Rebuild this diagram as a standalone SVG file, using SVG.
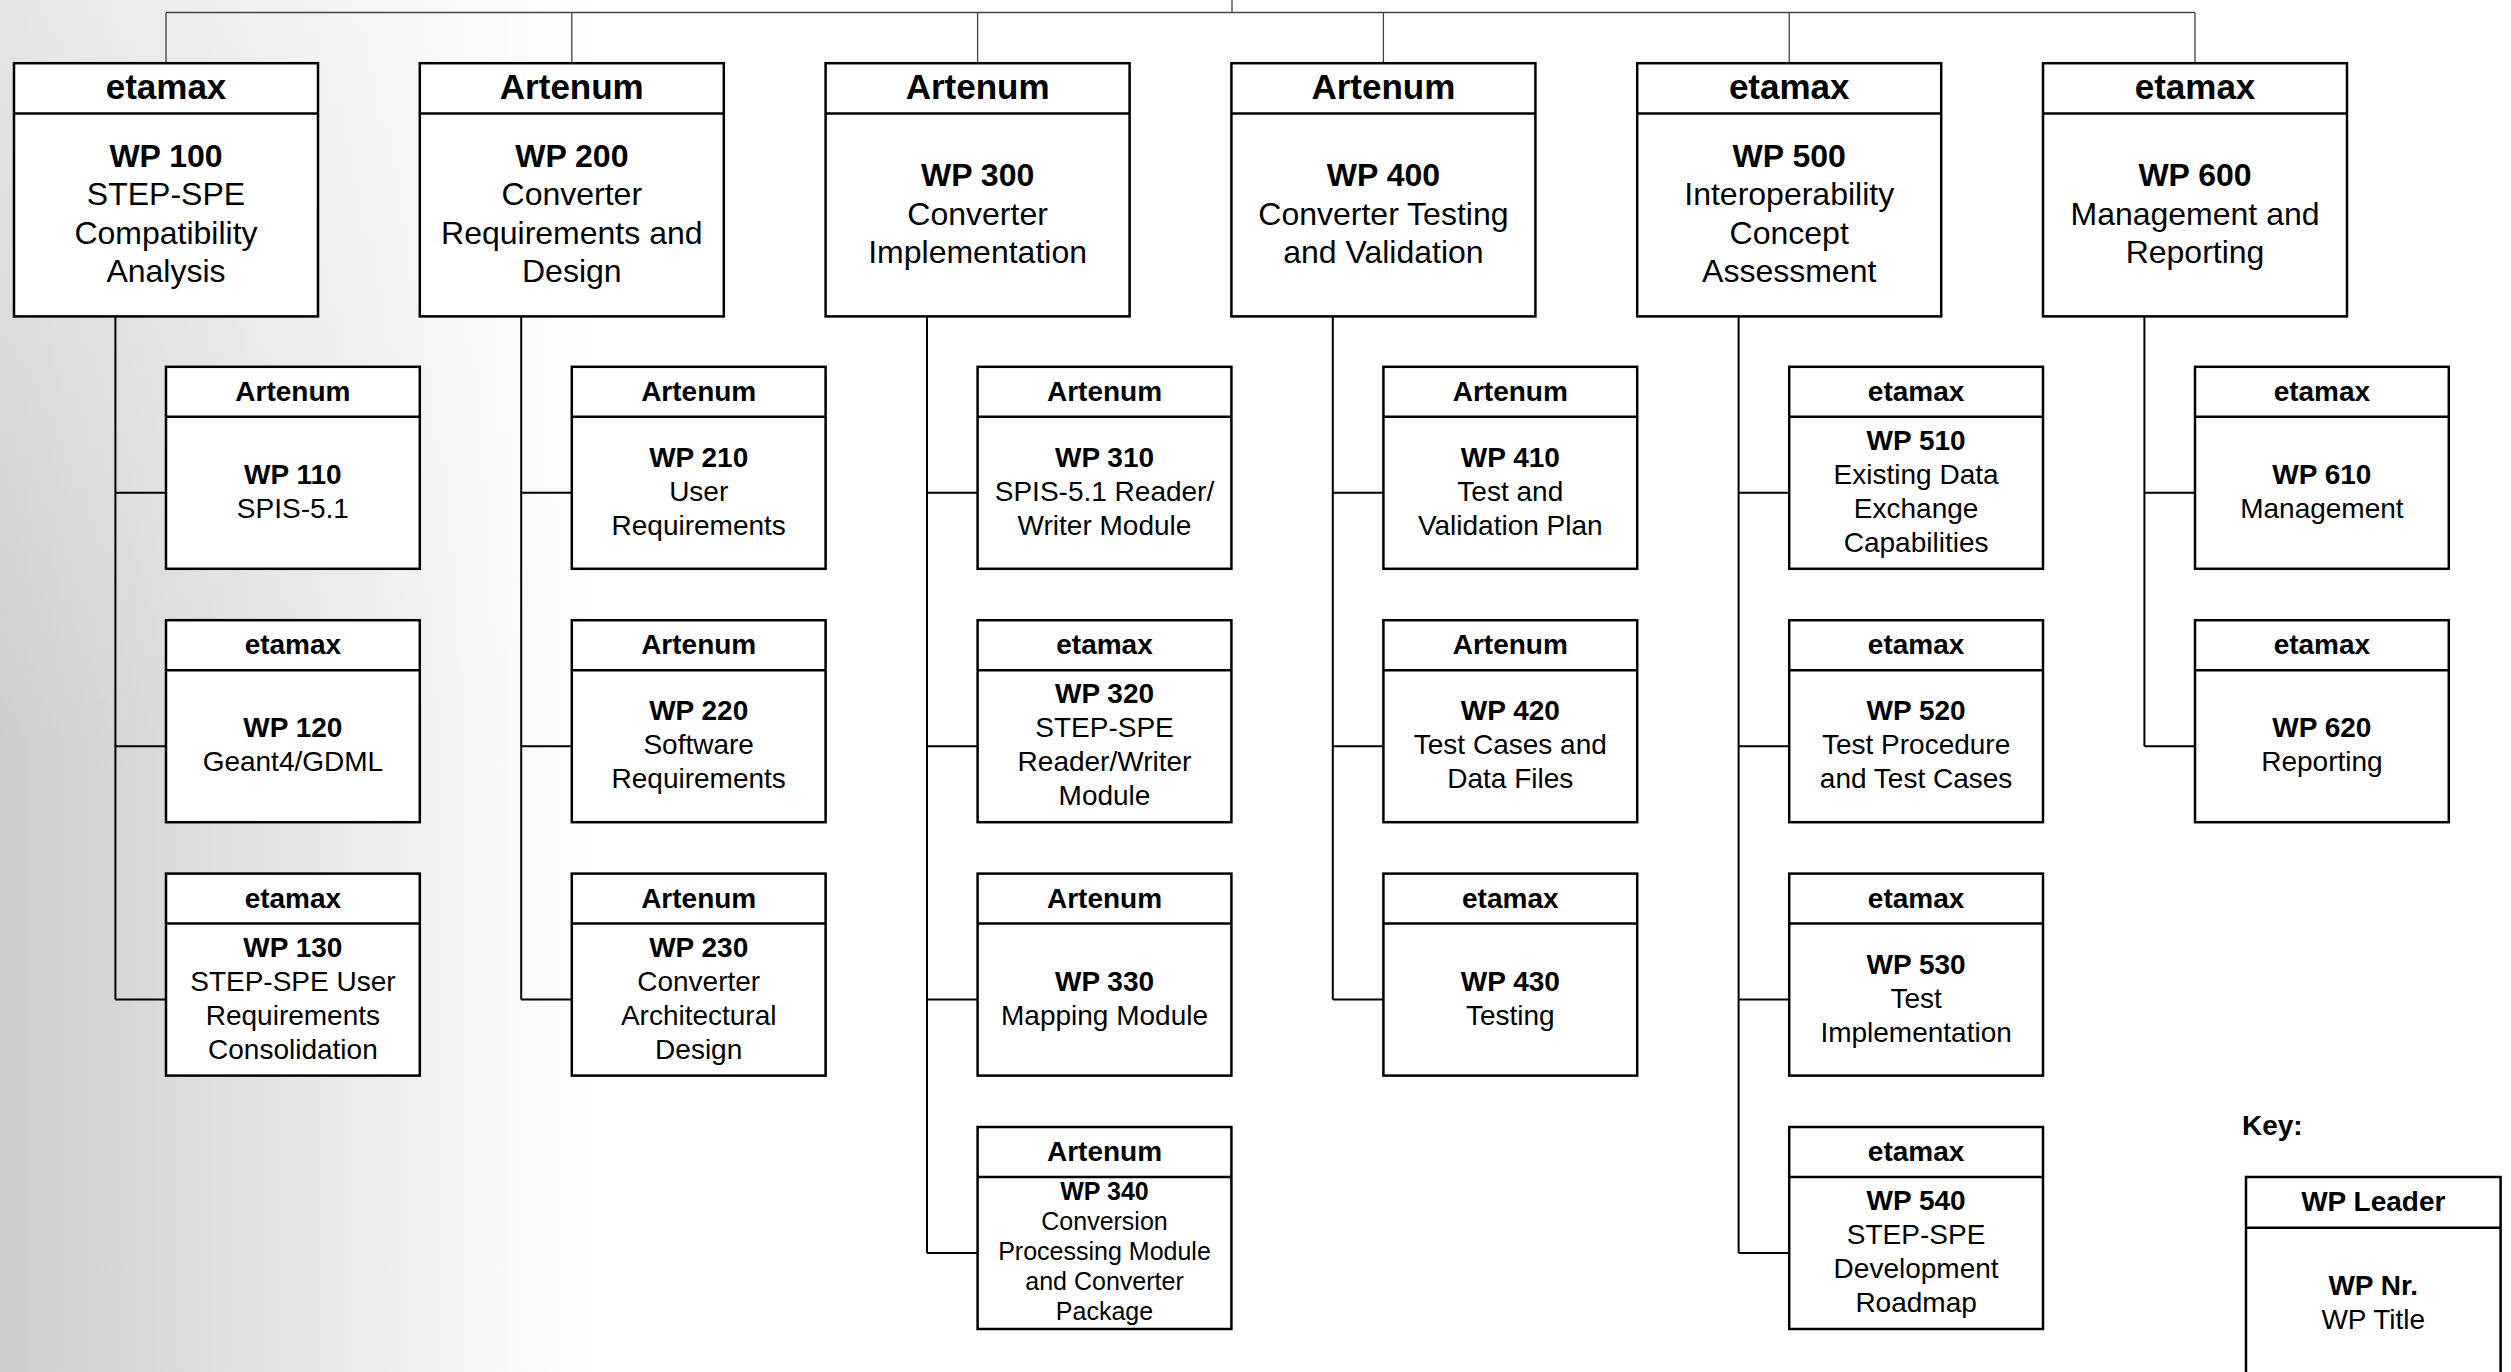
<svg xmlns="http://www.w3.org/2000/svg" width="2511" height="1372" viewBox="0 0 2511 1372">
<defs>
<linearGradient id="bgH" x1="0" y1="0" x2="600" y2="0" gradientUnits="userSpaceOnUse">
<stop offset="0" stop-color="#cdcdcd"/><stop offset="0.45" stop-color="#e3e3e3"/><stop offset="0.88" stop-color="#fafafa"/><stop offset="1" stop-color="#ffffff"/>
</linearGradient>
<linearGradient id="bgV" x1="0" y1="0" x2="0" y2="1372" gradientUnits="userSpaceOnUse">
<stop offset="0" stop-color="#ffffff" stop-opacity="0.5"/><stop offset="0.55" stop-color="#ffffff" stop-opacity="0"/>
</linearGradient>
<style>
.box{fill:#fff;stroke:#000;stroke-width:2.5}
.dv{stroke:#000;stroke-width:2.5}
text{font-family:"Liberation Sans",Arial,Helvetica,sans-serif;text-anchor:middle;fill:#000}
.h1{font-size:35px;font-weight:bold}
.h2{font-size:28px;font-weight:bold}
.b1{font-size:32px}
.b2{font-size:28px}
.b3{font-size:25px}
.nb{font-weight:bold}
.con{stroke:#000;stroke-width:2;fill:none}
.top{stroke:#444;stroke-width:1.3;fill:none}
</style>
</defs>
<rect x="0" y="0" width="2511" height="1372" fill="#fff"/>
<rect x="0" y="0" width="600" height="1372" fill="url(#bgH)"/>
<rect x="0" y="0" width="600" height="1372" fill="url(#bgV)"/>

<g id="connectors">
<path class="top" d="M1232 0V12.5M166 12.5H2195M166 12.5V63M571.8 12.5V63M977.6 12.5V63M1383.4 12.5V63M1789.2 12.5V63M2195 12.5V63"/>
<path class="con" d="M115.4 316.4V999.6M115.4 492.8H166M115.4 746.2H166M115.4 999.6H166"/>
<path class="con" d="M521.2 316.4V999.6M521.2 492.8H571.8M521.2 746.2H571.8M521.2 999.6H571.8"/>
<path class="con" d="M927 316.4V1253M927 492.8H977.6M927 746.2H977.6M927 999.6H977.6M927 1253H977.6"/>
<path class="con" d="M1332.8 316.4V999.6M1332.8 492.8H1383.4M1332.8 746.2H1383.4M1332.8 999.6H1383.4"/>
<path class="con" d="M1738.6 316.4V1253M1738.6 492.8H1789.2M1738.6 746.2H1789.2M1738.6 999.6H1789.2M1738.6 1253H1789.2"/>
<path class="con" d="M2144.4 316.4V746.2M2144.4 492.8H2195M2144.4 746.2H2195"/>
</g>

<!-- Top level -->
<g id="wp100">
<rect class="box" x="14" y="63.2" width="304" height="253.2"/><line class="dv" x1="14" y1="113.6" x2="318" y2="113.6"/>
<text class="h1" x="166" y="99">etamax</text>
<text class="b1"><tspan class="nb" x="166" y="166.6">WP 100</tspan><tspan x="166" y="205.2">STEP-SPE</tspan><tspan x="166" y="243.8">Compatibility</tspan><tspan x="166" y="282.4">Analysis</tspan></text>
</g>
<g id="wp200">
<rect class="box" x="419.8" y="63.2" width="304" height="253.2"/><line class="dv" x1="419.8" y1="113.6" x2="723.8" y2="113.6"/>
<text class="h1" x="571.8" y="99">Artenum</text>
<text class="b1"><tspan class="nb" x="571.8" y="166.6">WP 200</tspan><tspan x="571.8" y="205.2">Converter</tspan><tspan x="571.8" y="243.8">Requirements and</tspan><tspan x="571.8" y="282.4">Design</tspan></text>
</g>
<g id="wp300">
<rect class="box" x="825.6" y="63.2" width="304" height="253.2"/><line class="dv" x1="825.6" y1="113.6" x2="1129.6" y2="113.6"/>
<text class="h1" x="977.6" y="99">Artenum</text>
<text class="b1"><tspan class="nb" x="977.6" y="185.9">WP 300</tspan><tspan x="977.6" y="224.5">Converter</tspan><tspan x="977.6" y="263.1">Implementation</tspan></text>
</g>
<g id="wp400">
<rect class="box" x="1231.4" y="63.2" width="304" height="253.2"/><line class="dv" x1="1231.4" y1="113.6" x2="1535.4" y2="113.6"/>
<text class="h1" x="1383.4" y="99">Artenum</text>
<text class="b1"><tspan class="nb" x="1383.4" y="185.9">WP 400</tspan><tspan x="1383.4" y="224.5">Converter Testing</tspan><tspan x="1383.4" y="263.1">and Validation</tspan></text>
</g>
<g id="wp500">
<rect class="box" x="1637.2" y="63.2" width="304" height="253.2"/><line class="dv" x1="1637.2" y1="113.6" x2="1941.2" y2="113.6"/>
<text class="h1" x="1789.2" y="99">etamax</text>
<text class="b1"><tspan class="nb" x="1789.2" y="166.6">WP 500</tspan><tspan x="1789.2" y="205.2">Interoperability</tspan><tspan x="1789.2" y="243.8">Concept</tspan><tspan x="1789.2" y="282.4">Assessment</tspan></text>
</g>
<g id="wp600">
<rect class="box" x="2043" y="63.2" width="304" height="253.2"/><line class="dv" x1="2043" y1="113.6" x2="2347" y2="113.6"/>
<text class="h1" x="2195" y="99">etamax</text>
<text class="b1"><tspan class="nb" x="2195" y="185.9">WP 600</tspan><tspan x="2195" y="224.5">Management and</tspan><tspan x="2195" y="263.1">Reporting</tspan></text>
</g>

<!-- Column 1 -->
<g id="wp110">
<rect class="box" x="166" y="366.8" width="253.8" height="202"/><line class="dv" x1="166" y1="416.8" x2="419.8" y2="416.8"/>
<text class="h2" x="292.9" y="400.8">Artenum</text>
<text class="b2"><tspan class="nb" x="292.9" y="483.8">WP 110</tspan><tspan x="292.9" y="517.8">SPIS-5.1</tspan></text>
</g>
<g id="wp120">
<rect class="box" x="166" y="620.2" width="253.8" height="202"/><line class="dv" x1="166" y1="670.2" x2="419.8" y2="670.2"/>
<text class="h2" x="292.9" y="654.2">etamax</text>
<text class="b2"><tspan class="nb" x="292.9" y="737.2">WP 120</tspan><tspan x="292.9" y="771.2">Geant4/GDML</tspan></text>
</g>
<g id="wp130">
<rect class="box" x="166" y="873.6" width="253.8" height="202"/><line class="dv" x1="166" y1="923.6" x2="419.8" y2="923.6"/>
<text class="h2" x="292.9" y="907.6">etamax</text>
<text class="b2"><tspan class="nb" x="292.9" y="956.6">WP 130</tspan><tspan x="292.9" y="990.6">STEP-SPE User</tspan><tspan x="292.9" y="1024.6">Requirements</tspan><tspan x="292.9" y="1058.6">Consolidation</tspan></text>
</g>

<!-- Column 2 -->
<g id="wp210">
<rect class="box" x="571.8" y="366.8" width="253.8" height="202"/><line class="dv" x1="571.8" y1="416.8" x2="825.6" y2="416.8"/>
<text class="h2" x="698.7" y="400.8">Artenum</text>
<text class="b2"><tspan class="nb" x="698.7" y="466.8">WP 210</tspan><tspan x="698.7" y="500.8">User</tspan><tspan x="698.7" y="534.8">Requirements</tspan></text>
</g>
<g id="wp220">
<rect class="box" x="571.8" y="620.2" width="253.8" height="202"/><line class="dv" x1="571.8" y1="670.2" x2="825.6" y2="670.2"/>
<text class="h2" x="698.7" y="654.2">Artenum</text>
<text class="b2"><tspan class="nb" x="698.7" y="720.2">WP 220</tspan><tspan x="698.7" y="754.2">Software</tspan><tspan x="698.7" y="788.2">Requirements</tspan></text>
</g>
<g id="wp230">
<rect class="box" x="571.8" y="873.6" width="253.8" height="202"/><line class="dv" x1="571.8" y1="923.6" x2="825.6" y2="923.6"/>
<text class="h2" x="698.7" y="907.6">Artenum</text>
<text class="b2"><tspan class="nb" x="698.7" y="956.6">WP 230</tspan><tspan x="698.7" y="990.6">Converter</tspan><tspan x="698.7" y="1024.6">Architectural</tspan><tspan x="698.7" y="1058.6">Design</tspan></text>
</g>

<!-- Column 3 -->
<g id="wp310">
<rect class="box" x="977.6" y="366.8" width="253.8" height="202"/><line class="dv" x1="977.6" y1="416.8" x2="1231.4" y2="416.8"/>
<text class="h2" x="1104.5" y="400.8">Artenum</text>
<text class="b2"><tspan class="nb" x="1104.5" y="466.8">WP 310</tspan><tspan x="1104.5" y="500.8">SPIS-5.1 Reader/</tspan><tspan x="1104.5" y="534.8">Writer Module</tspan></text>
</g>
<g id="wp320">
<rect class="box" x="977.6" y="620.2" width="253.8" height="202"/><line class="dv" x1="977.6" y1="670.2" x2="1231.4" y2="670.2"/>
<text class="h2" x="1104.5" y="654.2">etamax</text>
<text class="b2"><tspan class="nb" x="1104.5" y="703.2">WP 320</tspan><tspan x="1104.5" y="737.2">STEP-SPE</tspan><tspan x="1104.5" y="771.2">Reader/Writer</tspan><tspan x="1104.5" y="805.2">Module</tspan></text>
</g>
<g id="wp330">
<rect class="box" x="977.6" y="873.6" width="253.8" height="202"/><line class="dv" x1="977.6" y1="923.6" x2="1231.4" y2="923.6"/>
<text class="h2" x="1104.5" y="907.6">Artenum</text>
<text class="b2"><tspan class="nb" x="1104.5" y="990.6">WP 330</tspan><tspan x="1104.5" y="1024.6">Mapping Module</tspan></text>
</g>
<g id="wp340">
<rect class="box" x="977.6" y="1127" width="253.8" height="202"/><line class="dv" x1="977.6" y1="1177" x2="1231.4" y2="1177"/>
<text class="h2" x="1104.5" y="1161">Artenum</text>
<text class="b3"><tspan class="nb" x="1104.5" y="1200.4">WP 340</tspan><tspan x="1104.5" y="1230.2">Conversion</tspan><tspan x="1104.5" y="1260">Processing Module</tspan><tspan x="1104.5" y="1289.8">and Converter</tspan><tspan x="1104.5" y="1319.6">Package</tspan></text>
</g>

<!-- Column 4 -->
<g id="wp410">
<rect class="box" x="1383.4" y="366.8" width="253.8" height="202"/><line class="dv" x1="1383.4" y1="416.8" x2="1637.2" y2="416.8"/>
<text class="h2" x="1510.3" y="400.8">Artenum</text>
<text class="b2"><tspan class="nb" x="1510.3" y="466.8">WP 410</tspan><tspan x="1510.3" y="500.8">Test and</tspan><tspan x="1510.3" y="534.8">Validation Plan</tspan></text>
</g>
<g id="wp420">
<rect class="box" x="1383.4" y="620.2" width="253.8" height="202"/><line class="dv" x1="1383.4" y1="670.2" x2="1637.2" y2="670.2"/>
<text class="h2" x="1510.3" y="654.2">Artenum</text>
<text class="b2"><tspan class="nb" x="1510.3" y="720.2">WP 420</tspan><tspan x="1510.3" y="754.2">Test Cases and</tspan><tspan x="1510.3" y="788.2">Data Files</tspan></text>
</g>
<g id="wp430">
<rect class="box" x="1383.4" y="873.6" width="253.8" height="202"/><line class="dv" x1="1383.4" y1="923.6" x2="1637.2" y2="923.6"/>
<text class="h2" x="1510.3" y="907.6">etamax</text>
<text class="b2"><tspan class="nb" x="1510.3" y="990.6">WP 430</tspan><tspan x="1510.3" y="1024.6">Testing</tspan></text>
</g>

<!-- Column 5 -->
<g id="wp510">
<rect class="box" x="1789.2" y="366.8" width="253.8" height="202"/><line class="dv" x1="1789.2" y1="416.8" x2="2043" y2="416.8"/>
<text class="h2" x="1916.1" y="400.8">etamax</text>
<text class="b2"><tspan class="nb" x="1916.1" y="449.8">WP 510</tspan><tspan x="1916.1" y="483.8">Existing Data</tspan><tspan x="1916.1" y="517.8">Exchange</tspan><tspan x="1916.1" y="551.8">Capabilities</tspan></text>
</g>
<g id="wp520">
<rect class="box" x="1789.2" y="620.2" width="253.8" height="202"/><line class="dv" x1="1789.2" y1="670.2" x2="2043" y2="670.2"/>
<text class="h2" x="1916.1" y="654.2">etamax</text>
<text class="b2"><tspan class="nb" x="1916.1" y="720.2">WP 520</tspan><tspan x="1916.1" y="754.2">Test Procedure</tspan><tspan x="1916.1" y="788.2">and Test Cases</tspan></text>
</g>
<g id="wp530">
<rect class="box" x="1789.2" y="873.6" width="253.8" height="202"/><line class="dv" x1="1789.2" y1="923.6" x2="2043" y2="923.6"/>
<text class="h2" x="1916.1" y="907.6">etamax</text>
<text class="b2"><tspan class="nb" x="1916.1" y="973.6">WP 530</tspan><tspan x="1916.1" y="1007.6">Test</tspan><tspan x="1916.1" y="1041.6">Implementation</tspan></text>
</g>
<g id="wp540">
<rect class="box" x="1789.2" y="1127" width="253.8" height="202"/><line class="dv" x1="1789.2" y1="1177" x2="2043" y2="1177"/>
<text class="h2" x="1916.1" y="1161">etamax</text>
<text class="b2"><tspan class="nb" x="1916.1" y="1210">WP 540</tspan><tspan x="1916.1" y="1244">STEP-SPE</tspan><tspan x="1916.1" y="1278">Development</tspan><tspan x="1916.1" y="1312">Roadmap</tspan></text>
</g>

<!-- Column 6 -->
<g id="wp610">
<rect class="box" x="2195" y="366.8" width="253.8" height="202"/><line class="dv" x1="2195" y1="416.8" x2="2448.8" y2="416.8"/>
<text class="h2" x="2321.9" y="400.8">etamax</text>
<text class="b2"><tspan class="nb" x="2321.9" y="483.8">WP 610</tspan><tspan x="2321.9" y="517.8">Management</tspan></text>
</g>
<g id="wp620">
<rect class="box" x="2195" y="620.2" width="253.8" height="202"/><line class="dv" x1="2195" y1="670.2" x2="2448.8" y2="670.2"/>
<text class="h2" x="2321.9" y="654.2">etamax</text>
<text class="b2"><tspan class="nb" x="2321.9" y="737.2">WP 620</tspan><tspan x="2321.9" y="771.2">Reporting</tspan></text>
</g>

<!-- Key -->
<g id="key">
<text class="h2" x="2242" y="1135" style="text-anchor:start">Key:</text>
<rect class="box" x="2246" y="1177" width="254.6" height="202"/><line class="dv" x1="2246" y1="1227.7" x2="2500.6" y2="1227.7"/>
<text class="h2" x="2373.3" y="1211">WP Leader</text>
<text class="b2"><tspan class="nb" x="2373.3" y="1295">WP Nr.</tspan><tspan x="2373.3" y="1329">WP Title</tspan></text>
</g>
</svg>
